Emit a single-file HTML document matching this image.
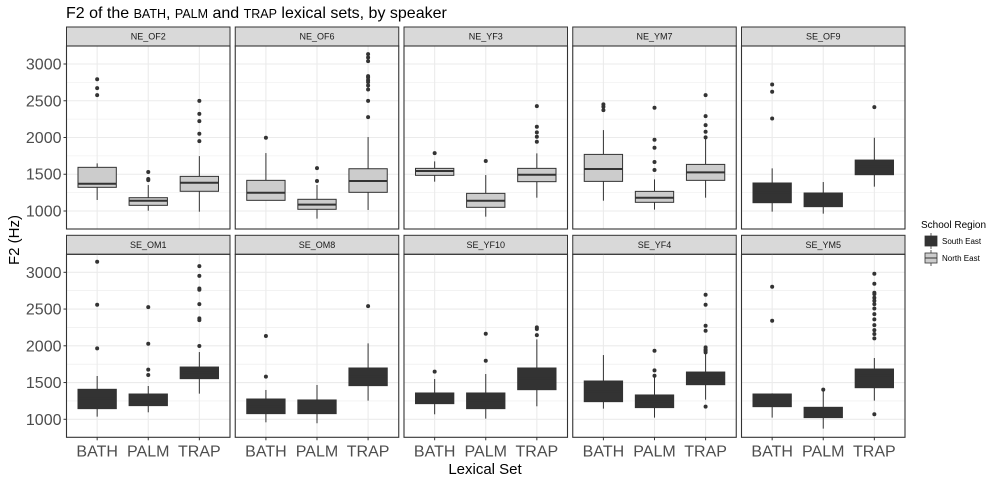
<!DOCTYPE html>
<html><head><meta charset="utf-8"><style>
html,body{margin:0;padding:0;background:#fff;}
svg{display:block;font-family:"Liberation Sans",Arial,sans-serif;}
</style></head><body>
<svg id="chart" width="1000" height="480" viewBox="0 0 1000 480" xmlns="http://www.w3.org/2000/svg">
<text x="66" y="18" font-size="16" fill="#000">F2 of the <tspan font-size="12.5">BATH</tspan>, <tspan font-size="12.5">PALM</tspan> and <tspan font-size="12.5">TRAP</tspan> lexical sets, by speaker</text>
<text transform="translate(19,240) rotate(-90)" text-anchor="middle" font-size="15" fill="#000">F2 (Hz)</text>
<text x="485" y="474" text-anchor="middle" font-size="15" fill="#000">Lexical Set</text>
<g>
<text x="921" y="228" font-size="10" fill="#000">School Region</text>
<g>
<line x1="931" x2="931" y1="233" y2="249" stroke="#333" stroke-width="0.8"/>
<rect x="925" y="236" width="12" height="10" fill="#333" stroke="#333" stroke-width="0.8"/>
<text x="942" y="244" font-size="8" fill="#000">South East</text></g>
<g>
<line x1="931" x2="931" y1="250" y2="266" stroke="#333" stroke-width="0.8"/>
<rect x="925" y="253" width="12" height="10" fill="#cccccc" stroke="#333" stroke-width="0.8"/>
<line x1="925" x2="937" y1="258" y2="258" stroke="#333" stroke-width="1"/>
<text x="942" y="261" font-size="8" fill="#000">North East</text></g>
</g>
<g id="panels"></g>
</svg>
<script>
const speakers = ["NE_OF2","NE_OF6","NE_YF3","NE_YM7","SE_OF9","SE_OM1","SE_OM8","SE_YF10","SE_YF4","SE_YM5"];
const regions = ["NE","NE","NE","NE","SE","SE","SE","SE","SE","SE"];
const categories = ["BATH","PALM","TRAP"];
const yTicks = [1000,1500,2000,2500,3000];
// each: [whiskerLow, q1, median, q3, whiskerHigh]
const stats = [
 [[1150,1322,1371,1594,1648],[1004,1077,1140,1181,1353],[990,1268,1385,1471,1747]],
 [[1145,1145,1249,1417,1788],[896,1023,1086,1159,1353],[1014,1254,1408,1575,2006]],
 [[1399,1485,1544,1580,1675],[923,1050,1140,1240,1489],[1181,1399,1494,1580,1784]],
 [[1140,1403,1571,1770,2101],[1018,1118,1181,1267,1430],[1181,1417,1525,1634,2010]],
 [[991,1113,1250,1381,1580],[964,1059,1150,1245,1394],[1331,1494,1600,1693,1997]],
 [[1036,1145,1280,1408,1589],[1095,1186,1260,1344,1453],[1349,1553,1640,1711,1915]],
 [[959,1077,1170,1276,1399],[946,1077,1160,1263,1467],[1254,1458,1580,1698,2033]],
 [[1068,1213,1290,1358,1548],[1009,1145,1250,1358,1616],[1177,1403,1550,1698,2087]],
 [[1145,1240,1380,1521,1874],[1023,1159,1240,1331,1593],[1267,1471,1560,1643,1897]],
 [[1023,1172,1270,1344,1353],[873,1023,1100,1163,1403],[1254,1430,1600,1684,1834]]
];
const outliers = [
 [[2793,2671,2576],[1530,1435,1420],[2499,2322,2223,2051,1951]],
 [[1997],[1584,1408],[3134,3088,3039,2835,2817,2780,2753,2708,2653,2499,2277]],
 [[1788],[1680],[2427,2146,2069,2010,1942]],
 [[2450,2418,2373],[2404,1969,1861,1666,1557],[2576,2291,2169,2078,2001]],
 [[2721,2622,2259],[],[2413]],
 [[3143,2558,1965],[2527,2028,1675,1602],[3084,2952,2780,2762,2567,2373,2350,1997]],
 [[2133,1580],[],[2540]],
 [[1648],[2164,1797],[2250,2228,2146]],
 [[],[1933,1666,1593],[2694,2558,2273,2205,1978,1950,1933,1910,1172]],
 [[2803,2341],[1403],[2980,2844,2721,2703,2653,2613,2567,2508,2431,2359,2282,2214,2160,2101,1068]]
];

const NS="http://www.w3.org/2000/svg";
const root=document.getElementById('panels');
function mk(tag,attrs,parent){const e=document.createElementNS(NS,tag);for(const k in attrs)e.setAttribute(k,attrs[k]);(parent||root).appendChild(e);return e;}
const PW=163.5, PLEFT=66.5, PSTEP=168.75;
const rowTop=[46,254.3], plotH=183;
const yMin=755, yMax=3245;
function yScale(v,row){return rowTop[row]+plotH*(1-(v-yMin)/(yMax-yMin));}
function xScale(i,left){return left+PW*((i+1)-0.4)/3.2;}

speakers.forEach((sp,p)=>{
  const row=p<5?0:1, col=p%5;
  const left=PLEFT+col*PSTEP, top=rowTop[row];
  const g=mk('g',{});
  
  
  // strip
  const st=mk('rect',{x:left,y:top-19,width:PW,height:19,fill:'#d9d9d9',stroke:'#333','stroke-width':1},g);
  
  
  const stt=mk('text',{x:left+PW/2,y:top-6.5,'text-anchor':'middle','font-size':9,fill:'#1a1a1a'},g);
  stt.textContent=sp;
  
  
  // grid
  for(let v=750;v<=3250;v+=250){
    if(v<yMin||v>yMax)continue;
    const major=v%500===0;
    const y=yScale(v,row);
    const gl=mk('line',{x1:left,x2:left+PW,y1:y,y2:y,stroke:'#ebebeb','stroke-width':major?1.1:0.55},g);
    
    
  }
  categories.forEach((c,i)=>{
    const x=xScale(i,left);
    const gl=mk('line',{x1:x,x2:x,y1:top,y2:top+plotH,stroke:'#ebebeb','stroke-width':1.1},g);
    
    
  });
  const fill=regions[p]==="SE"?'#333333':'#cccccc';
  categories.forEach((c,i)=>{
    const s=stats[p][i], x=xScale(i,left), bw=PW*0.75/3.2;
    const bg=mk('g',{},g);
    
    
    mk('line',{x1:x,x2:x,y1:yScale(s[0],row),y2:yScale(s[1],row),stroke:'#333','stroke-width':1},bg);
    mk('line',{x1:x,x2:x,y1:yScale(s[3],row),y2:yScale(s[4],row),stroke:'#333','stroke-width':1},bg);
    mk('rect',{x:x-bw/2,y:yScale(s[3],row),width:bw,height:yScale(s[1],row)-yScale(s[3],row),fill:fill,stroke:'#333','stroke-width':1},bg);
    mk('line',{x1:x-bw/2,x2:x+bw/2,y1:yScale(s[2],row),y2:yScale(s[2],row),stroke:'#333','stroke-width':2},bg);
    outliers[p][i].forEach(v=>{
      const o=mk('circle',{cx:x,cy:yScale(v,row),r:2,fill:'#333'},bg);
      
      
    });
  });
  const br=mk('rect',{x:left,y:top,width:PW,height:plotH,fill:'none',stroke:'#333','stroke-width':1.1},g);
  
  
  if(col===0){
    yTicks.forEach(v=>{
      const y=yScale(v,row);
      mk('line',{x1:left-3,x2:left,y1:y,y2:y,stroke:'#333','stroke-width':1},g);
      const t=mk('text',{x:left-5,y:y+5.5,'text-anchor':'end','font-size':16,fill:'#4d4d4d'},g);
      t.textContent=v;
      
      
    });
  }
  if(row===1){
    categories.forEach((c,i)=>{
      const x=xScale(i,left);
      mk('line',{x1:x,x2:x,y1:top+plotH,y2:top+plotH+3,stroke:'#333','stroke-width':1},g);
      const t=mk('text',{x:x,y:top+plotH+19,'text-anchor':'middle','font-size':16,fill:'#4d4d4d'},g);
      t.textContent=c;
      
      
    });
  }
});
</script>
</body></html>
